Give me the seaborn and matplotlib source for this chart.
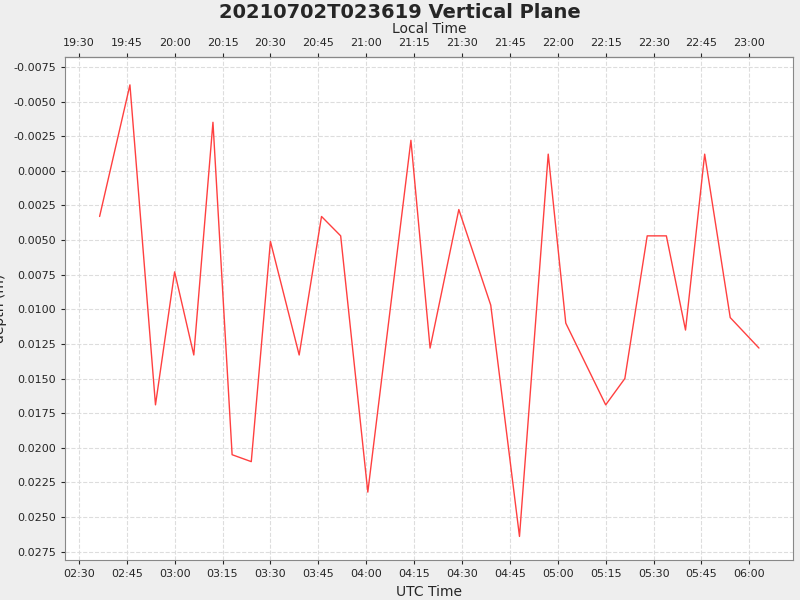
import matplotlib
matplotlib.use('Agg')
import matplotlib.pyplot as plt
import matplotlib.dates as mdates
import matplotlib.ticker as mticker
import numpy as np
import pandas as pd
import seaborn as sns

TITLE = '20210702T023619 Vertical Plane'
DAY = '2021-07-02 '
TIMES = ['02:36:30', '02:46:00', '02:54:00', '03:00:00', '03:06:00', '03:12:00', '03:18:00', '03:24:00',
         '03:30:00', '03:39:00', '03:46:00', '03:52:00', '04:00:30', '04:14:00', '04:20:00', '04:29:00',
         '04:39:00', '04:48:00', '04:57:00', '05:02:30', '05:15:00', '05:21:00', '05:28:00', '05:34:00',
         '05:40:00', '05:46:00', '05:54:00', '06:03:00']
DEPTH = [0.0033, -0.0062, 0.0169, 0.0073, 0.0133, -0.0035, 0.0205, 0.0210,
         0.0051, 0.0133, 0.0033, 0.0047, 0.0232, -0.0022, 0.0128, 0.0028,
         0.0097, 0.0264, -0.0012, 0.0110, 0.0169, 0.0150, 0.0047, 0.0047,
         0.0115, -0.0012, 0.0106, 0.0128]
UTC_OFFSET_H = -7

sns.set_style('white')
df = pd.DataFrame({'time': pd.to_datetime([DAY + t for t in TIMES], format='mixed'),
                   'depth': DEPTH})

fig = plt.figure(figsize=(8, 6), dpi=100, facecolor='#EEEEEE')
ax = fig.add_axes([0.081, 0.0667, 0.91, 0.838])
sns.lineplot(data=df, x='time', y='depth', ax=ax, color='#FF4040', linewidth=1)

ax.set_xlim(pd.Timestamp(DAY + '02:25:36'), pd.Timestamp(DAY + '06:13:36'))
ax.set_ylim(0.0281, -0.0082)
ax.yaxis.set_major_locator(mticker.MultipleLocator(0.0025))
ax.yaxis.set_major_formatter(mticker.FormatStrFormatter('%.4f'))
ax.xaxis.set_major_locator(mdates.MinuteLocator(byminute=[0, 15, 30, 45]))
ax.xaxis.set_major_formatter(mdates.DateFormatter('%H:%M'))
ax.grid(True, color='#DDDDDD', linestyle='--', linewidth=0.8)
ax.tick_params(labelsize=8, length=3, left=True, bottom=True)
ax.set_xlabel('UTC Time', fontsize=10)
ax.set_ylabel('depth (m)', fontsize=10)
for s in ax.spines.values():
    s.set_color('#888888')

off = UTC_OFFSET_H / 24
top = ax.secondary_xaxis('top', functions=(lambda x: x + off, lambda x: x - off))
top.xaxis.set_major_locator(mdates.MinuteLocator(byminute=[0, 15, 30, 45]))
top.xaxis.set_major_formatter(mdates.DateFormatter('%H:%M'))
top.tick_params(labelsize=8, length=3)
top.set_xlabel('Local Time', fontsize=10)

fig.suptitle(TITLE, fontsize=14, fontweight='bold', y=0.995)
fig.savefig('out.png', facecolor=fig.get_facecolor())
